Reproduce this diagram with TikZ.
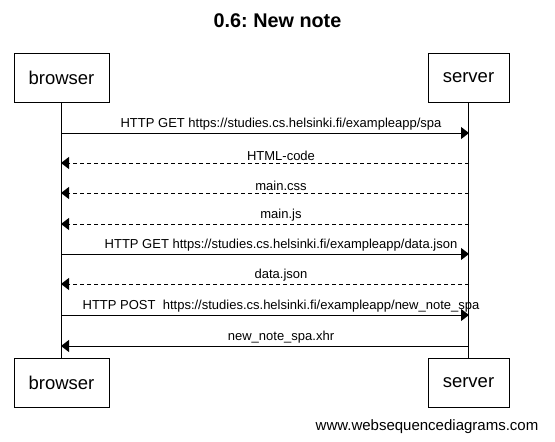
\documentclass[tikz,border=0pt]{standalone}
\usepackage{fontspec}
\setmainfont{Liberation Sans}
\usetikzlibrary{arrows.meta}
\frenchspacing

\begin{document}
\begin{tikzpicture}[x=1pt, y=-1pt, line width=1pt,
    actor/.style={draw, rectangle, minimum height=49pt, font=\fontsize{18.5}{20}\selectfont},
    msg/.style={-{Triangle[length=8pt, width=12pt]}},
    reply/.style={msg, dash pattern=on 4pt off 3pt},
    lbl/.style={midway, above, xshift=16pt, inner sep=2pt, font=\fontsize{13}{15}\selectfont}]

    \useasboundingbox (0,0) rectangle (555,442);

    % Titel
    \node[font=\bfseries\fontsize{19.8}{21}\selectfont] (title) at (277.5,21) {0.6: New note};

    % Osallistujat ylhaalla
    \node[actor, minimum width=95pt] (browser) at (61.5,77.5) {browser};
    \node[actor, minimum width=81pt] (server) at (468.5,77.5) {server};

    % Osallistujat alhaalla
    \node[actor, minimum width=95pt] (browserEnd) at (61.5,382.5) {browser};
    \node[actor, minimum width=81pt] (serverEnd) at (468.5,382.5) {server};

    % Elamanviivat
    \draw (browser) -- (browserEnd);
    \draw (server) -- (serverEnd);

    % Viestien pisteet
    \coordinate (b1) at (61,133); \coordinate (s1) at (469,133);
    \coordinate (b2) at (61,163); \coordinate (s2) at (469,163);
    \coordinate (b3) at (61,193); \coordinate (s3) at (469,193);
    \coordinate (b4) at (61,224); \coordinate (s4) at (469,224);
    \coordinate (b5) at (61,254); \coordinate (s5) at (469,254);
    \coordinate (b6) at (61,284); \coordinate (s6) at (469,284);
    \coordinate (b7) at (61,315); \coordinate (s7) at (469,315);
    \coordinate (b8) at (61,346); \coordinate (s8) at (469,346);

    % Viestit
    \draw[msg] (b1) -- (s1) node[lbl] (m1) {HTTP GET https://studies.cs.helsinki.fi/exampleapp/spa};
    \draw[reply] (s2) -- (b2) node[lbl] (m2) {HTML-code};
    \draw[reply] (s3) -- (b3) node[lbl] (m3) {main.css};
    \draw[reply] (s4) -- (b4) node[lbl] (m4) {main.js};
    \draw[msg] (b5) -- (s5) node[lbl] (m5) {HTTP GET https://studies.cs.helsinki.fi/exampleapp/data.json};
    \draw[reply] (s6) -- (b6) node[lbl] (m6) {data.json};
    \draw[msg] (b7) -- (s7) node[lbl] (m7) {HTTP POST\ \ https://studies.cs.helsinki.fi/exampleapp/new\_note\_spa};
    \draw[msg] (s8) -- (b8) node[lbl] (m8) {new\_note\_spa.xhr};

    % Alateksti
    \node[font=\fontsize{15}{17}\selectfont] (footer) at (427,427) {www.websequencediagrams.com};

\end{tikzpicture}
\end{document}
